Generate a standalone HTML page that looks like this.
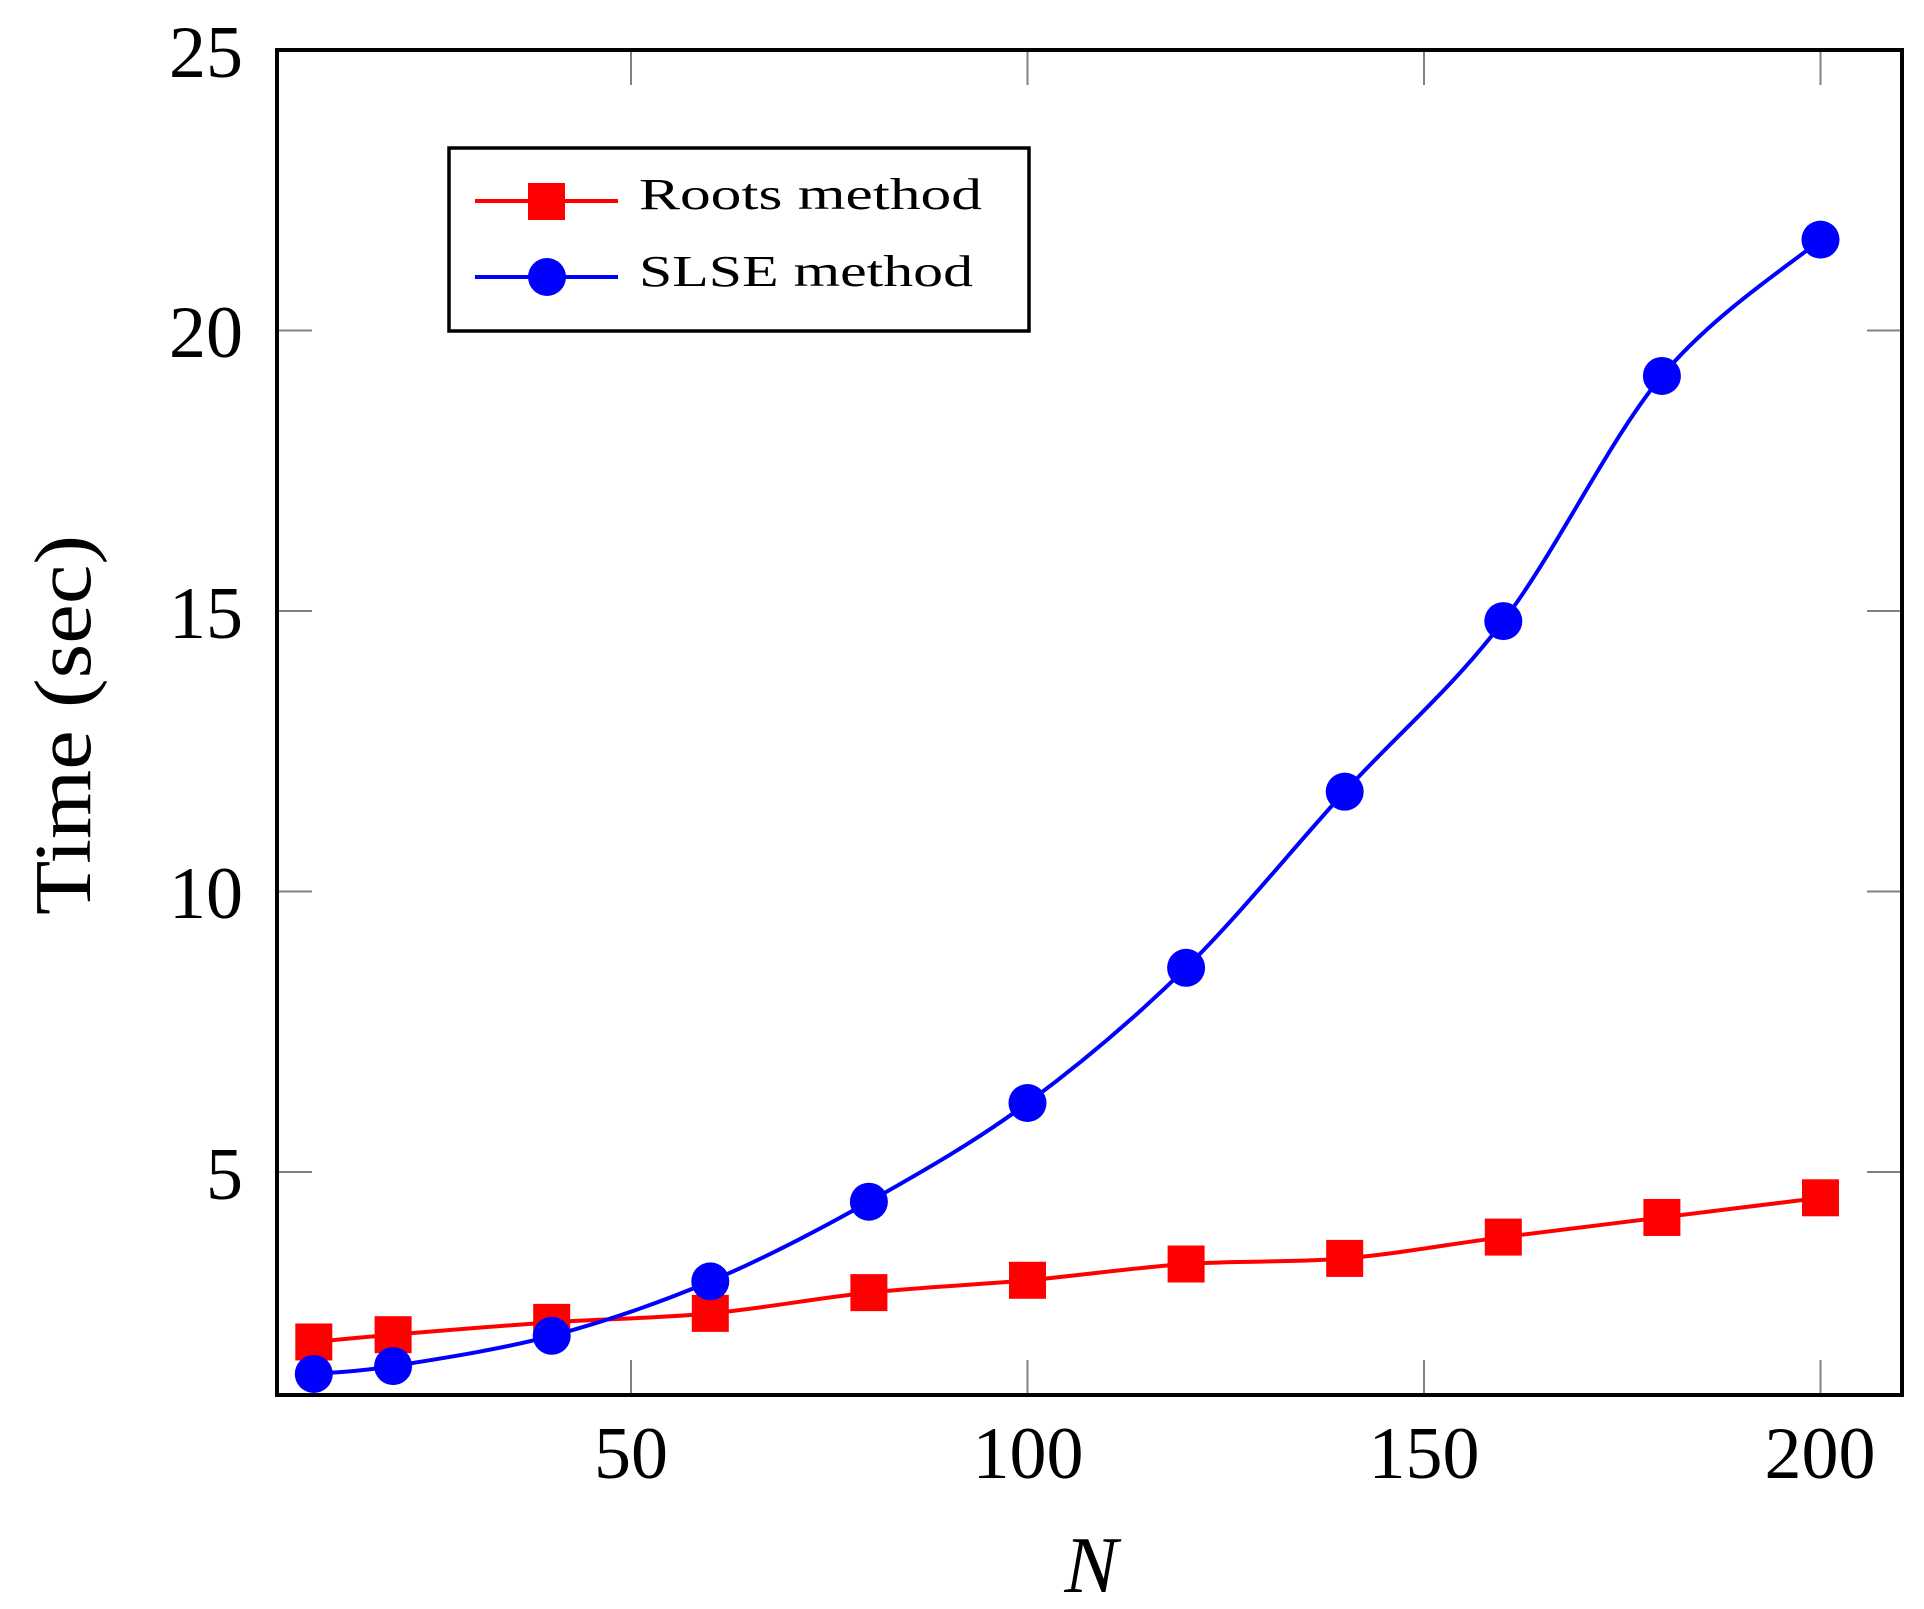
<!DOCTYPE html>
<html><head><meta charset="utf-8"><style>
html,body{margin:0;padding:0;background:#fff;}
svg{display:block;}
text{font-family:"Liberation Serif",serif;fill:#000;}
</style></head><body>
<svg id="s" width="1924" height="1609" viewBox="0 0 1924 1609" xmlns="http://www.w3.org/2000/svg">
<g id="ticks" stroke="#808080" stroke-width="2"></g>
<g id="series"></g>
<rect x="277" y="50" width="1625" height="1345" fill="none" stroke="#000" stroke-width="4"/>
<g font-size="74" text-anchor="middle">
<text x="631" y="1478">50</text>
<text x="1028" y="1478">100</text>
<text x="1424" y="1478">150</text>
<text x="1820" y="1478">200</text>
</g>
<g font-size="74" text-anchor="end">
<text x="243" y="77">25</text>
<text x="243" y="357">20</text>
<text x="243" y="638">15</text>
<text x="243" y="918">10</text>
<text x="243" y="1199">5</text>
</g>
<text x="1091" y="1592" font-size="80" font-style="italic" text-anchor="middle">N</text>
<text transform="translate(90,725) rotate(-90)" font-size="80" text-anchor="middle" textLength="380" lengthAdjust="spacingAndGlyphs">Time (sec)</text>
<rect x="449" y="148" width="580" height="183" fill="#fff" stroke="#000" stroke-width="3.5"/>
<line x1="475" y1="201" x2="618" y2="201" stroke="#f00" stroke-width="4"/>
<rect x="528" y="183" width="37" height="37" fill="#f00"/>
<line x1="475" y1="277" x2="618" y2="277" stroke="#00f" stroke-width="4"/>
<circle cx="547" cy="277" r="19" fill="#00f"/>
<text x="639" y="209" font-size="44" textLength="343" lengthAdjust="spacingAndGlyphs">Roots method</text>
<text x="639" y="286" font-size="44" textLength="334" lengthAdjust="spacingAndGlyphs">SLSE method</text>
</svg>
<script>
var X=function(n){return 234.5+7.93*n;};
var Y=function(v){return 50+(25-v)*56.1;};
var Ns=[10,20,40,60,80,100,120,140,160,180,200];
var red=[1.97,2.1,2.32,2.48,2.85,3.07,3.36,3.46,3.84,4.19,4.54];
var blue=[1.40,1.54,2.08,3.05,4.47,6.23,8.64,11.78,14.82,19.19,21.62];
var NS="http://www.w3.org/2000/svg";
var t=document.getElementById("ticks");
function ln(x1,y1,x2,y2){var l=document.createElementNS(NS,"line");l.setAttribute("x1",x1);l.setAttribute("y1",y1);l.setAttribute("x2",x2);l.setAttribute("y2",y2);t.appendChild(l);}
[50,100,150,200].forEach(function(n){var x=X(n);ln(x,50,x,85);ln(x,1360,x,1395);});
[5,10,15,20].forEach(function(v){var y=Y(v);ln(277,y,312,y);ln(1867,y,1902,y);});
function path(vals){var p=vals.map(function(v,i){return [X(Ns[i]),Y(v)];});
var d="M"+p[0][0]+","+p[0][1];
for(var i=0;i<p.length-1;i++){var p0=p[i>0?i-1:i],p1=p[i],p2=p[i+1],p3=p[i+2<p.length?i+2:i+1];
var c1=[p1[0]+(p2[0]-p0[0])/6,p1[1]+(p2[1]-p0[1])/6],c2=[p2[0]-(p3[0]-p1[0])/6,p2[1]-(p3[1]-p1[1])/6];
d+=" C"+c1+" "+c2+" "+p2;}return [d,p];}
var g=document.getElementById("series");
function draw(vals,col,sq){var r=path(vals);var e=document.createElementNS(NS,"path");e.setAttribute("d",r[0]);e.setAttribute("fill","none");e.setAttribute("stroke",col);e.setAttribute("stroke-width","4");g.appendChild(e);
r[1].forEach(function(q){var m;if(sq){m=document.createElementNS(NS,"rect");m.setAttribute("x",q[0]-18.5);m.setAttribute("y",q[1]-18.5);m.setAttribute("width",37);m.setAttribute("height",37);}else{m=document.createElementNS(NS,"circle");m.setAttribute("cx",q[0]);m.setAttribute("cy",q[1]);m.setAttribute("r",19);}m.setAttribute("fill",col);g.appendChild(m);});}
draw(red,"#f00",true);draw(blue,"#00f",false);
</script>
</body></html>
